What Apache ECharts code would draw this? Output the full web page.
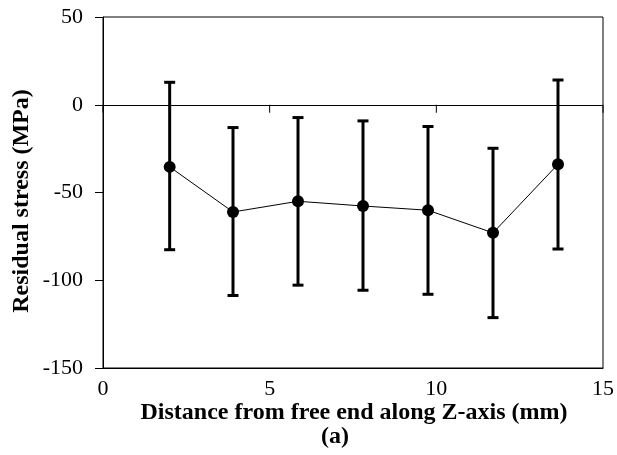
<!DOCTYPE html>
<html>
<head>
<meta charset="utf-8">
<script src="https://cdn.jsdelivr.net/npm/echarts@6/dist/echarts.min.js"></script>
<style>
html,body{margin:0;padding:0;background:#fff;}
#chart{width:617px;height:455px;}
</style>
</head>
<body>
<div id="chart"></div>
<script>
// Data
const distances = [2.0, 3.9, 5.85, 7.8, 9.75, 11.7, 13.65];
const stressMean = [-35.4, -61.1, -55.0, -57.7, -60.1, -73.0, -33.9];
const stressUpper = [12.8, -13.0, -7.3, -9.2, -12.4, -24.8, 14.1];
const stressLower = [-82.6, -108.7, -102.8, -105.7, -108.0, -121.3, -82.2];
const xTicks = [0, 5, 10, 15];
const yTicks = [-150, -100, -50, 0, 50];
const xTitle = 'Distance from free end along Z-axis (mm)';
const yTitle = 'Residual stress (MPa)';
const caption = '(a)';

const FONT = '"Liberation Serif", "Times New Roman", serif';
const chart = echarts.init(document.getElementById('chart'), null, {renderer: 'canvas'});

const meanData = distances.map((x, i) => [x, stressMean[i]]);
const errData = distances.map((x, i) => [x, stressLower[i], stressUpper[i]]);
const zeroTickData = xTicks.map(v => [v, 0]);

const option = {
  animation: false,
  backgroundColor: '#fff',
  grid: {
    left: 103, right: 9, top: 17, bottom: 87,
    show: true, borderColor: '#000', borderWidth: 1, backgroundColor: 'transparent'
  },
  xAxis: {
    type: 'value', min: xTicks[0], max: xTicks[xTicks.length - 1], interval: 5,
    position: 'bottom',
    axisLine: {show: true, onZero: false, lineStyle: {color: '#000', width: 1}},
    axisTick: {show: false},
    splitLine: {show: false},
    axisLabel: {
      show: true, color: '#000', fontFamily: FONT, fontSize: 22, margin: 10,
      formatter: v => xTicks.includes(v) ? String(v) : ''
    }
  },
  yAxis: {
    type: 'value', min: yTicks[0], max: yTicks[yTicks.length - 1], interval: 50,
    axisLine: {show: true, onZero: false, lineStyle: {color: '#000', width: 1}},
    axisTick: {show: true, inside: false, length: 8, lineStyle: {color: '#000', width: 1}},
    splitLine: {show: false},
    axisLabel: {
      color: '#000', fontFamily: FONT, fontSize: 22, margin: 20,
      formatter: v => yTicks.includes(v) ? String(v) : ''
    }
  },
  graphic: [
    {
      type: 'text', x: 354, y: 413,
      style: {text: xTitle, font: 'bold 24px ' + FONT, fill: '#000', align: 'center', verticalAlign: 'middle'}
    },
    {
      type: 'text', x: 335, y: 437,
      style: {text: caption, font: 'bold 24px ' + FONT, fill: '#000', align: 'center', verticalAlign: 'middle'}
    },
    {
      type: 'text', x: 22, y: 201, rotation: Math.PI / 2,
      style: {text: yTitle, font: 'bold 24px ' + FONT, fill: '#000', align: 'center', verticalAlign: 'middle'}
    }
  ],
  series: [
    {
      // zero line ticks (the horizontal axis crosses at 0)
      type: 'custom',
      data: zeroTickData,
      z: 1,
      silent: true,
      clip: false,
      renderItem: function (params, api) {
        const p = api.coord([api.value(0), api.value(1)]);
        return {
          type: 'line',
          shape: {x1: p[0], y1: p[1], x2: p[0], y2: p[1] + 8},
          style: {stroke: '#000', lineWidth: 1}
        };
      }
    },
    {
      type: 'custom',
      data: errData,
      z: 2,
      renderItem: function (params, api) {
        const x = api.value(0);
        const lo = api.coord([x, api.value(1)]);
        const hi = api.coord([x, api.value(2)]);
        const half = 5.5;
        const st = {stroke: '#000', lineWidth: 3};
        return {
          type: 'group',
          children: [
            {type: 'line', shape: {x1: lo[0], y1: lo[1], x2: hi[0], y2: hi[1]}, style: st},
            {type: 'line', shape: {x1: hi[0] - half, y1: hi[1], x2: hi[0] + half, y2: hi[1]}, style: st},
            {type: 'line', shape: {x1: lo[0] - half, y1: lo[1], x2: lo[0] + half, y2: lo[1]}, style: st}
          ]
        };
      }
    },
    {
      type: 'line',
      data: meanData,
      z: 3,
      symbol: 'circle',
      symbolSize: 12,
      itemStyle: {color: '#000'},
      lineStyle: {color: '#000', width: 1},
      markLine: {
        silent: true,
        symbol: ['none', 'none'],
        label: {show: false},
        lineStyle: {color: '#000', width: 1, type: 'solid'},
        data: [{yAxis: 0}]
      }
    }
  ]
};
chart.setOption(option);
</script>
</body>
</html>
